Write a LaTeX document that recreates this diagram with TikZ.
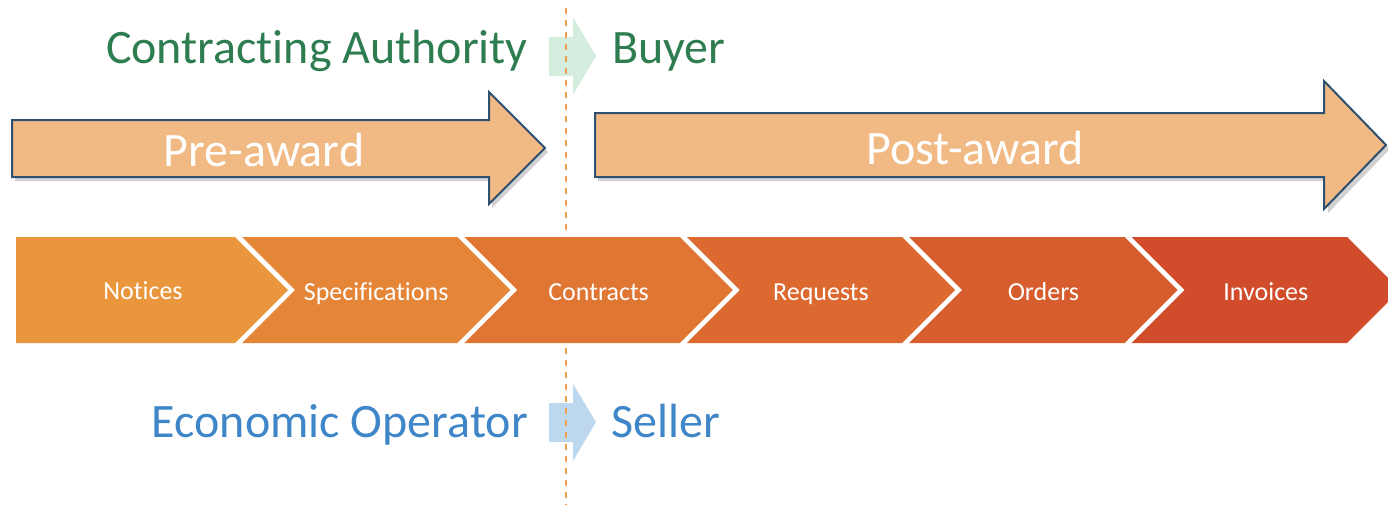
\documentclass[tikz,border=0pt]{standalone}
\usepackage{fontspec}
\setmainfont{Carlito}[RawFeature={-liga;-calt;-clig}]
\definecolor{arrfill}{RGB}{241,185,131}
\definecolor{arrline}{RGB}{47,80,110}
\definecolor{greentxt}{RGB}{46,125,80}
\definecolor{greenarr}{RGB}{213,237,222}
\definecolor{bluetxt}{RGB}{62,134,200}
\definecolor{bluearr}{RGB}{189,215,238}
\definecolor{dashcol}{RGB}{240,160,80}
\definecolor{chA}{RGB}{234,150,60}
\definecolor{chB}{RGB}{229,133,55}
\definecolor{chC}{RGB}{224,118,51}
\definecolor{chD}{RGB}{219,105,48}
\definecolor{chE}{RGB}{215,92,46}
\definecolor{chF}{RGB}{208,76,42}
\tikzset{
  bigtxt/.style={font=\fontsize{48}{57}\selectfont, inner sep=0pt},
  chtxt/.style={font=\fontsize{26}{31}\selectfont, inner sep=0pt, text=white, anchor=base},
  bigarrow/.style={fill=arrfill, draw=arrline, line width=2pt, line join=miter},
  arrshadow/.style={fill=black, opacity=0.18},
  divider/.style={dashcol, line width=2.2pt, dash pattern=on 6pt off 6pt},
}
\begin{document}
\begin{tikzpicture}[x=1pt,y=-1pt]
\useasboundingbox (0,0) rectangle (1388,506);
\clip (0,0) rectangle (1388,506);

% dashed divider
\coordinate (d1) at (566,8);
\coordinate (d2) at (566,232);
\coordinate (d3) at (566,348);
\coordinate (d4) at (566,505);

% small role arrows
\fill[greenarr] (549,37) -- (573,37) -- (573,17) -- (596,56) -- (573,95) -- (573,76) -- (549,76) -- cycle;
\fill[bluearr] (549,403) -- (573,403) -- (573,384) -- (596,422) -- (573,461) -- (573,442) -- (549,442) -- cycle;

\draw[divider] (d1) -- (d2);
\draw[divider] (d3) -- (d4);

% role texts
\node[bigtxt, text=greentxt, anchor=base east] (ca) at (528,63) {Contracting Authority};
\node[bigtxt, text=greentxt, anchor=base west] (buyer) at (612,63) {Buyer};
\node[bigtxt, text=bluetxt, anchor=base east] (eo) at (528,437) {Economic Operator};
\node[bigtxt, text=bluetxt, anchor=base west] (seller) at (611,437) {Seller};

% big arrows with shadow
\fill[arrshadow] (15,124) -- (492,124) -- (492,96) -- (548,152) -- (492,208) -- (492,181) -- (15,181) -- cycle;
\draw[bigarrow] (12,120) -- (489,120) -- (489,92) -- (545,148) -- (489,204) -- (489,177) -- (12,177) -- cycle;
\node[bigtxt, text=white, anchor=base] (pre) at (264,166) {Pre-award};

\fill[arrshadow] (598,117) -- (1328,117) -- (1328,86) -- (1390,149) -- (1328,213) -- (1328,181) -- (598,181) -- cycle;
\draw[bigarrow] (595,113) -- (1324,113) -- (1324,81) -- (1386,145) -- (1324,209) -- (1324,177) -- (595,177) -- cycle;
\node[bigtxt, text=white, anchor=base] (post) at (975,164) {Post-award};

% chevrons
\fill[chA] (16,237) -- (235,237) -- (288,290) -- (235,343) -- (16,343) -- cycle;
\node[chtxt] (c1) at (143,299) {Notices};
\foreach \i/\col/\lab/\nm in {1/chB/Specifications/c2, 2/chC/Contracts/c3, 3/chD/Requests/c4, 4/chE/Orders/c5, 5/chF/Invoices/c6} {
  \pgfmathsetmacro\R{235+222.4*\i}
  \pgfmathsetmacro\L{\R-222.4+7}
  \pgfmathsetmacro\C{(\L+\R+53)/2}
  \fill[\col] (\L,237) -- (\R,237) -- (\R+53,290) -- (\R,343) -- (\L,343) -- (\L+53,290) -- cycle;
  \node[chtxt] (\nm) at (\C,300) {\lab};
}
\end{tikzpicture}
\end{document}
